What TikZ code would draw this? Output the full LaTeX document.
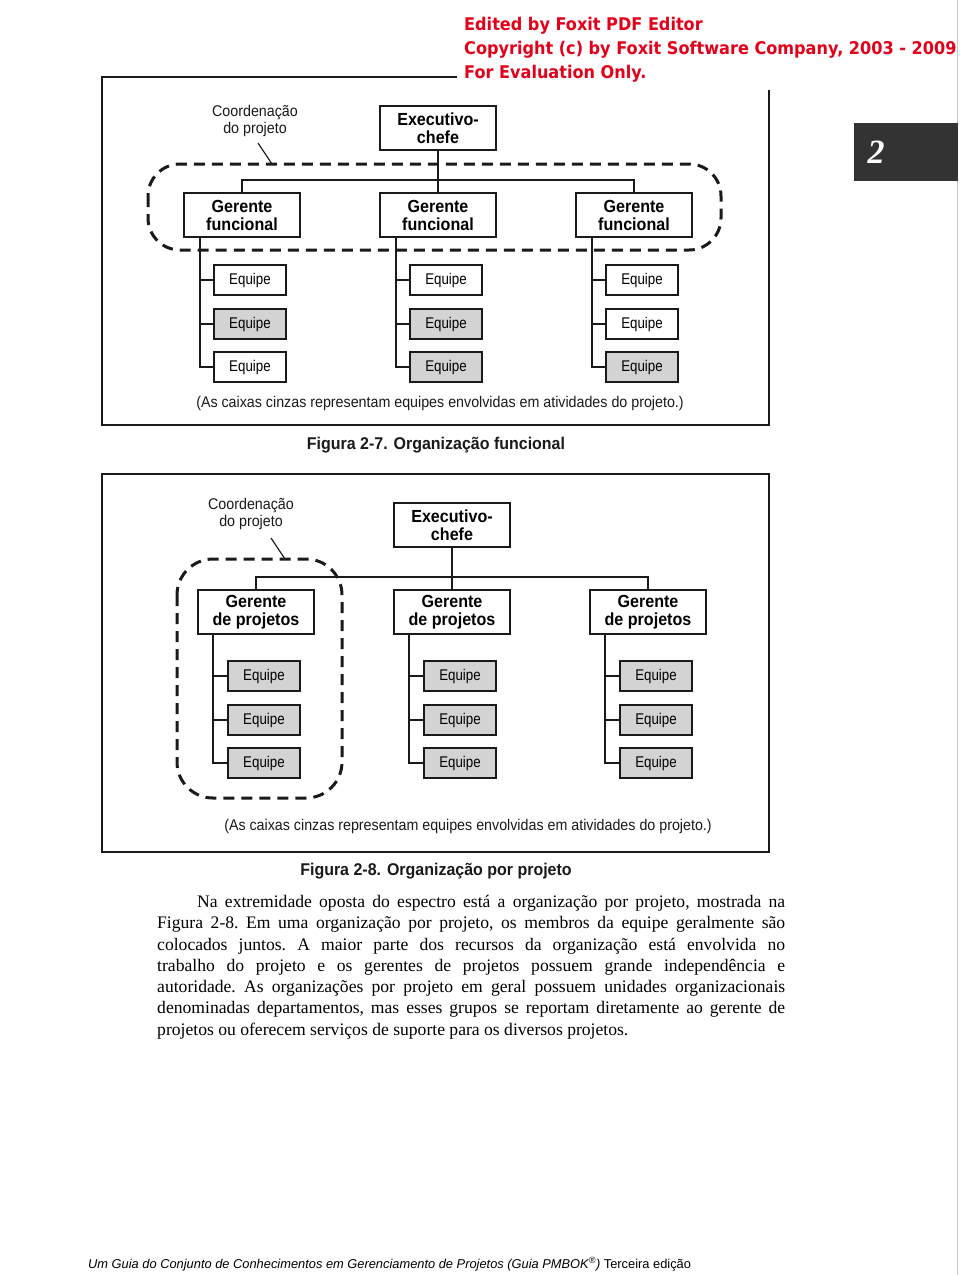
\documentclass[tikz,border=0pt]{standalone}
\usepackage{fontspec}
\setmainfont{Liberation Serif}
\newfontfamily\orgfont[FakeStretch=0.92]{Liberation Sans}
\newfontfamily\teamfont[FakeStretch=0.86]{Liberation Sans}
\newfontfamily\capfont[FakeStretch=0.94]{Liberation Sans}
\newfontfamily\foxfont[FakeStretch=0.92]{DejaVu Sans}
\newfontfamily\footfont{Liberation Sans}
\usetikzlibrary{positioning,calc}
\definecolor{OInk}{HTML}{1A1A1A}
\definecolor{OGray}{HTML}{D3D3D3}
\definecolor{ORed}{HTML}{E3001B}
\definecolor{OTab}{HTML}{333333}
\definecolor{OEdge}{HTML}{C8C8C8}

\tikzset{
  orgline/.style={draw=OInk, line width=1.6pt},
  bossbox/.style={orgline, fill=white, minimum width=116pt, minimum height=44pt,
    inner sep=0pt, align=center, font=\orgfont\fontsize{17.5}{18}\selectfont\bfseries},
  teambox/.style={orgline, fill=white, minimum width=72pt, minimum height=30pt,
    inner sep=0pt, font=\teamfont\fontsize{15.5}{16}\selectfont},
  coordpath/.style={draw=OInk, line width=3pt, dash pattern=on 11pt off 7pt},
  smalltext/.style={font=\orgfont\fontsize{15.5}{17}\selectfont, text=OInk, align=center, inner sep=0pt},
  captext/.style={font=\capfont\fontsize{17}{18}\selectfont\bfseries, text=OInk, inner sep=0pt},
  foxtext/.style={font=\foxfont\fontsize{17.5}{20}\selectfont\bfseries, text=ORed, inner sep=0pt, anchor=base west}
}

\begin{document}
\begin{tikzpicture}[x=1pt, y=-1pt]
  \useasboundingbox (0,0) rectangle (960,1275);
  \fill[white] (0,0) rectangle (960,1275);
  \draw[OEdge, line width=1.5pt] (957.5,0) -- (957.5,1275);

  % watermark
  \node[foxtext] (fox1) at (464,30) {Edited by Foxit PDF Editor};
  \node[foxtext] (fox2) at (464,54) {Copyright (c) by Foxit Software Company, 2003 - 2009};
  \node[foxtext] (fox3) at (464,78) {For Evaluation Only.};

  % chapter tab
  \fill[OTab] (854,123) rectangle (958,181);
  \node[text=white, inner sep=0pt, font=\fontsize{34}{34}\selectfont\bfseries\itshape] (tab) at (876,152) {2};

  % Figura 2-7
  \draw[orgline] (457,77) -- (102,77) -- (102,425) -- (769,425) -- (769,90);
  \node[smalltext] (fa-coord) at (255,121) {Coordenação\\do projeto};
  \node[bossbox] (fa-ex) at (438,128) {Executivo-\\chefe};
  \foreach \c [count=\i] in {242,438,634}
    \node[bossbox] (fa-m\i) at (\c,215) {Gerente\\funcional};
  \coordinate (fa-bus) at (438,180);
  \draw[orgline] (fa-ex) -- (fa-m2);
  \draw[orgline] (fa-m1) |- (fa-bus) -| (fa-m3);
  \foreach \c/\i/\fa/\fb/\fc in {242/1/white/OGray/white, 438/2/white/OGray/OGray, 634/3/white/white/OGray}{
    \coordinate (fa-sp\i) at (\c-42,237);
    \node[teambox, fill=\fa] (fa-t\i1) at (\c+8,280) {Equipe};
    \node[teambox, fill=\fb] (fa-t\i2) at (\c+8,324) {Equipe};
    \node[teambox, fill=\fc] (fa-t\i3) at (\c+8,367) {Equipe};
    \draw[orgline] (fa-sp\i) |- (fa-t\i3);
    \draw[orgline] (fa-sp\i |- fa-t\i1) -- (fa-t\i1);
    \draw[orgline] (fa-sp\i |- fa-t\i2) -- (fa-t\i2);
  }
  \draw[coordpath, rounded corners=32pt] (148,164) rectangle (721,250);
  \coordinate (fa-tail) at (258,143);
  \coordinate (fa-tip) at (272,164);
  \draw[orgline, line width=1.2pt] (fa-tail) -- (fa-tip);
  \node[smalltext] (fa-note) at (440,403) {(As caixas cinzas representam equipes envolvidas em atividades do projeto.)};
  \node[captext] (fa-cap) at (436,445) {Figura 2-7. Organização funcional};

  % Figura 2-8
  \draw[orgline] (102,474) rectangle (769,852);
  \node[smalltext] (fb-coord) at (251,514) {Coordenação\\do projeto};
  \node[bossbox] (fb-ex) at (452,525) {Executivo-\\chefe};
  \foreach \c [count=\i] in {256,452,648}
    \node[bossbox] (fb-m\i) at (\c,612) {Gerente\\de projetos};
  \coordinate (fb-bus) at (452,577);
  \draw[orgline] (fb-ex) -- (fb-m2);
  \draw[orgline] (fb-m1) |- (fb-bus) -| (fb-m3);
  \foreach \c [count=\i] in {256,452,648}{
    \coordinate (fb-sp\i) at (\c-43,634);
    \node[teambox, fill=OGray] (fb-t\i1) at (\c+8,676) {Equipe};
    \node[teambox, fill=OGray] (fb-t\i2) at (\c+8,720) {Equipe};
    \node[teambox, fill=OGray] (fb-t\i3) at (\c+8,763) {Equipe};
    \draw[orgline] (fb-sp\i) |- (fb-t\i3);
    \draw[orgline] (fb-sp\i |- fb-t\i1) -- (fb-t\i1);
    \draw[orgline] (fb-sp\i |- fb-t\i2) -- (fb-t\i2);
  }
  \draw[coordpath, rounded corners=36pt] (177,559) rectangle (342,798);
  \coordinate (fb-tail) at (271,538);
  \coordinate (fb-tip) at (285,559);
  \draw[orgline, line width=1.2pt] (fb-tail) -- (fb-tip);
  \node[smalltext] (fb-note) at (468,826) {(As caixas cinzas representam equipes envolvidas em atividades do projeto.)};
  \node[captext] (fb-cap) at (436,871) {Figura 2-8. Organização por projeto};

  % body text
  \node[anchor=north west, inner sep=0pt, text width=628pt, align=justify,
        font=\fontsize{17.6}{21.3}\selectfont\frenchspacing] (body) at (157,895)
    {\hspace*{40pt}Na extremidade oposta do espectro está a organização por projeto, mostrada na\linebreak
     Figura 2-8. Em uma organização por projeto, os membros da equipe geralmente são\linebreak
     colocados juntos. A maior parte dos recursos da organização está envolvida no\linebreak
     trabalho do projeto e os gerentes de projetos possuem grande independência e\linebreak
     autoridade. As organizações por projeto em geral possuem unidades organizacionais\linebreak
     denominadas departamentos, mas esses grupos se reportam diretamente ao gerente de\linebreak
     projetos ou oferecem serviços de suporte para os diversos projetos.};

  % footer
  \node[anchor=base west, inner sep=0pt, font=\footfont\fontsize{12.85}{15}\selectfont] (foot) at (88,1268)
    {\itshape Um Guia do Conjunto de Conhecimentos em Gerenciamento de Projetos (Guia PMBOK\textsuperscript{®})\upshape\ Terceira edição};
\end{tikzpicture}
\end{document}
